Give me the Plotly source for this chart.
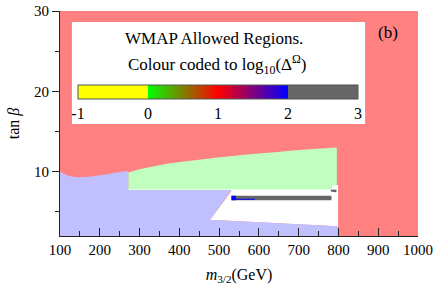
import plotly.graph_objects as go

# ---- data ----
# excluded (red) region: whole scanned plane
red_x = [100, 1000, 1000, 100]
red_y = [2, 2, 30, 30]

# white (allowed, uncoloured) region under the coloured ones
white_x = [272, 531, 477, 502, 600, 700, 796, 799, 799, 783, 783, 272]
white_y = [7.6, 7.6, 4.0, 3.95, 3.7, 3.45, 3.2, 3.1, 8.35, 8.35, 7.9, 7.9]

# blue (lavender) region boundary
blue_x = [100, 100, 120, 142, 175, 226, 250, 268, 272, 272, 531, 477, 502, 600, 700, 796, 798, 798]
blue_y = [2, 10.0, 9.5, 9.3, 9.38, 9.75, 9.95, 10.05, 10.05, 7.73, 7.73, 4.0, 3.95, 3.7, 3.45, 3.2, 3.1, 2]

# green region boundary
green_x = [272, 272, 300, 368, 402, 502, 585, 653, 700, 796, 796, 783, 783]
green_y = [7.8, 9.9, 10.3, 11.0, 11.2, 11.8, 12.2, 12.5, 12.7, 13.0, 8.3, 8.3, 7.8]

# grey band, log10 > 2
grey_x = [531, 782, 783, 782, 531]
grey_y = [7.0, 7.0, 6.72, 6.45, 6.45]
grey2_x = [780, 795, 795, 782]
grey2_y = [7.75, 7.8, 7.45, 7.5]

# dark blue, log10 ~ 2
dblue_x = [531, 542, 542, 590, 590, 542, 542, 531]
dblue_y = [7.0, 7.0, 6.63, 6.63, 6.5, 6.5, 6.45, 6.45]

# colour scale for log10(Delta^Omega)
cb_ticks = [-1, 0, 1, 2, 3]
cb_labels = ["-1", "0", "1", "2", "3"]
cb_min, cb_max = -1, 3

x_ticks = [100, 200, 300, 400, 500, 600, 700, 800, 900, 1000]
y_ticks = [10, 20, 30]

FONT = "Liberation Serif"

fig = go.Figure()

def region(x, y, color):
    fig.add_trace(go.Scatter(x=x, y=y, fill="toself", fillcolor=color, mode="none",
                             hoverinfo="skip", showlegend=False))

region(red_x, red_y, "#FF8080")
region(white_x, white_y, "#FFFFFF")
region(blue_x, blue_y, "#C0C0FF")
region(green_x, green_y, "#C0FFC0")
region(grey_x, grey_y, "#666666")
region(grey2_x, grey2_y, "#666666")
region(dblue_x, dblue_y, "#0000FF")

colorscale = [[0, "#FFFF00"], [0.25, "#FFFF00"], [0.25, "#00FF00"], [0.5, "#FF0000"],
              [0.75, "#0000FF"], [0.75, "#666666"], [1, "#666666"]]

fig.add_trace(go.Scatter(
    x=[None], y=[None], mode="markers", showlegend=False, hoverinfo="skip",
    marker=dict(color=[0], colorscale=colorscale, cmin=cb_min, cmax=cb_max, showscale=True,
                colorbar=dict(orientation="h", x=0.4413, xanchor="center", y=0.671, yanchor="top",
                              len=0.782, lenmode="fraction", thickness=14, thicknessmode="pixels",
                              outlinewidth=1, outlinecolor="#555555", xpad=0, ypad=0,
                              tickvals=cb_ticks, ticktext=cb_labels, ticks="",
                              tickfont=dict(family=FONT, size=16, color="black"),
                              bgcolor="rgba(0,0,0,0)", borderwidth=0))))

# white legend box
fig.add_shape(type="rect", xref="x", yref="y", x0=130, x1=867, y0=15.94, y1=28.63,
              fillcolor="white", line=dict(width=0), layer="above")
fig.add_annotation(x=0.43, y=0.877, xref="paper", yref="paper", showarrow=False,
                   xanchor="center", yanchor="middle",
                   text="WMAP Allowed Regions.", font=dict(family=FONT, size=17, color="black"))
fig.add_annotation(x=0.44, y=0.762, xref="paper", yref="paper", showarrow=False,
                   xanchor="center", yanchor="middle",
                   text="Colour coded to log<sub>10</sub>(Δ<sup>Ω</sup>)",
                   font=dict(family=FONT, size=17, color="black"))
fig.add_annotation(x=0.916, y=0.904, xref="paper", yref="paper", showarrow=False,
                   xanchor="center", yanchor="middle",
                   text="(b)", font=dict(family=FONT, size=17, color="black"))

fig.update_layout(
    width=439, height=289, margin=dict(l=60, r=21, t=11, b=53, autoexpand=False),
    paper_bgcolor="white", plot_bgcolor="white",
    font=dict(family=FONT, size=15, color="black"),
    xaxis=dict(range=[100, 1000], tickvals=x_ticks, ticks="inside", ticklen=8, tickcolor="#222",
               minor=dict(dtick=50, ticks="inside", ticklen=5, tickcolor="#222"),
               showline=True, linecolor="#222", linewidth=1, showgrid=False, zeroline=False,
               tickfont=dict(size=15), title=dict(text="<i>m</i><sub>3/2</sub>(GeV)", font=dict(size=16), standoff=11)),
    yaxis=dict(range=[2, 30], tickvals=y_ticks, ticks="outside", ticklen=7, tickcolor="#222",
               minor=dict(dtick=5, ticks="outside", ticklen=4, tickcolor="#222"),
               showline=True, linecolor="#222", linewidth=1, showgrid=False, zeroline=False,
               tickfont=dict(size=15), title=dict(text="tan <i>β</i>", font=dict(size=16), standoff=10)),
)

fig.write_html("out.html", config={"displayModeBar": False},
               post_script="document.body.style.margin='0';")
